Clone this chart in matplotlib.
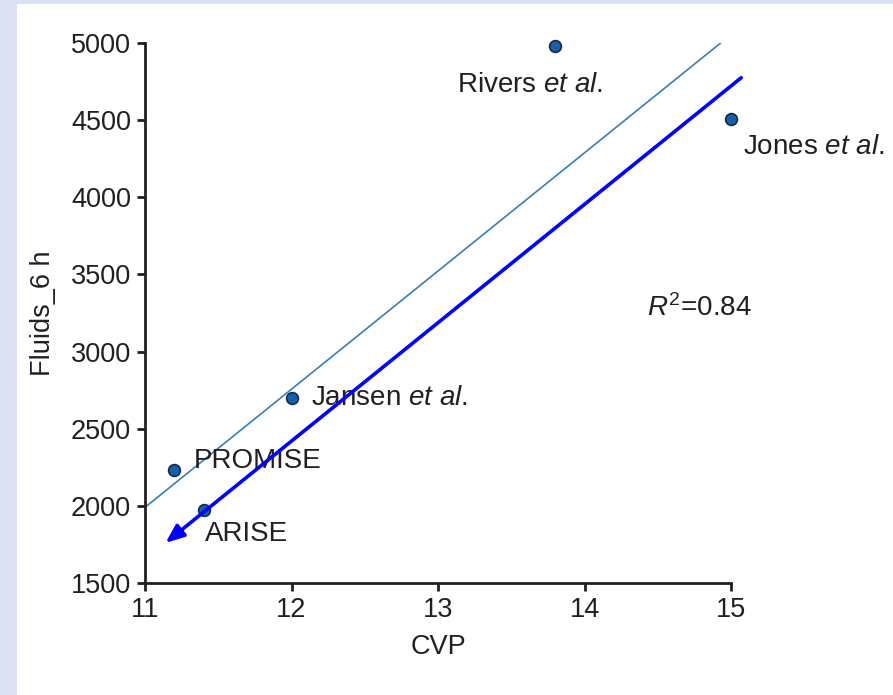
import numpy as np
import matplotlib
matplotlib.use("Agg")
import matplotlib.pyplot as plt
from matplotlib.patches import Rectangle

# data
studies = ["PROMISE", "ARISE", "Jansen", "Rivers", "Jones"]
cvp = [11.2, 11.4, 12.0, 13.8, 15.0]
fluids = [2230, 1970, 2700, 4980, 4505]
x_ticks = [11, 12, 13, 14, 15]
y_ticks = [1500, 2000, 2500, 3000, 3500, 4000, 4500, 5000]
arrow_start = (15.07, 4775)
arrow_end = (11.14, 1760)

plt.rcParams['font.family'] = ['Liberation Sans', 'DejaVu Sans']
plt.rcParams['mathtext.fontset'] = 'custom'
plt.rcParams['mathtext.rm'] = 'Liberation Sans'
plt.rcParams['mathtext.it'] = 'Liberation Sans:italic'
txt = '#231f20'

fig = plt.figure(figsize=(8.93, 6.95), dpi=100, facecolor='#dbe0f2')
# white panel, lavender strip left and top
fig.add_artist(Rectangle((17 / 893, 0), 1, 1 - 4 / 695, transform=fig.transFigure,
                         facecolor='white', edgecolor='none', zorder=-10))
ax = fig.add_axes([145 / 893, 1 - 583 / 695, 586 / 893, 540 / 695])
ax.set_facecolor('none')

# regression line, stops where it reaches the top of the axis
slope, icpt = np.polyfit(cvp, fluids, 1)
x_end = (max(y_ticks) - icpt) / slope
xs = np.array([x_ticks[0], x_end])
ax.plot(xs, slope * xs + icpt, color='#3a7db5', lw=1.2, zorder=2)

ax.scatter(cvp, fluids, s=72, color='#1560a8', edgecolor='#1a2a40', lw=1.2,
           zorder=4, clip_on=False)

ax.annotate('', xy=arrow_end, xytext=arrow_start,
            arrowprops=dict(arrowstyle='-|>,head_length=1.1,head_width=0.45',
                            color='#0000ff', lw=2.6, shrinkA=0, shrinkB=0),
            zorder=5, annotation_clip=False)

fs = 20
ax.text(13.63, 4730, 'Rivers $\\it{et\\ al}$.', fontsize=fs, color=txt, ha='center', va='center')
ax.text(15.08, 4325, 'Jones $\\it{et\\ al}$.', fontsize=fs, color=txt, ha='left', va='center')
ax.text(12.13, 2700, 'Jansen $\\it{et\\ al}$.', fontsize=fs, color=txt, ha='left', va='center')
ax.text(11.33, 2290, 'PROMISE', fontsize=fs, color=txt, ha='left', va='center')
ax.text(11.41, 1820, 'ARISE', fontsize=fs, color=txt, ha='left', va='center')
ax.text(14.43, 3280, '$\\it{R}^2$=0.84', fontsize=fs, color=txt, ha='left', va='center')

ax.set_xlim(x_ticks[0], x_ticks[-1])
ax.set_ylim(y_ticks[0], y_ticks[-1])
ax.set_xticks(x_ticks)
ax.set_yticks(y_ticks)
for s in ['top', 'right']:
    ax.spines[s].set_visible(False)
for s in ['left', 'bottom']:
    ax.spines[s].set_linewidth(2)
    ax.spines[s].set_color(txt)
ax.tick_params(direction='out', length=6, width=2, color=txt, labelcolor=txt,
               labelsize=19.5, pad=4)
ax.set_xlabel('CVP', fontsize=19.5, color=txt, labelpad=8)
ax.set_ylabel('Fluids_6 h', fontsize=19.5, color=txt, labelpad=11)

fig.savefig('out.png', dpi=100, facecolor=fig.get_facecolor())
